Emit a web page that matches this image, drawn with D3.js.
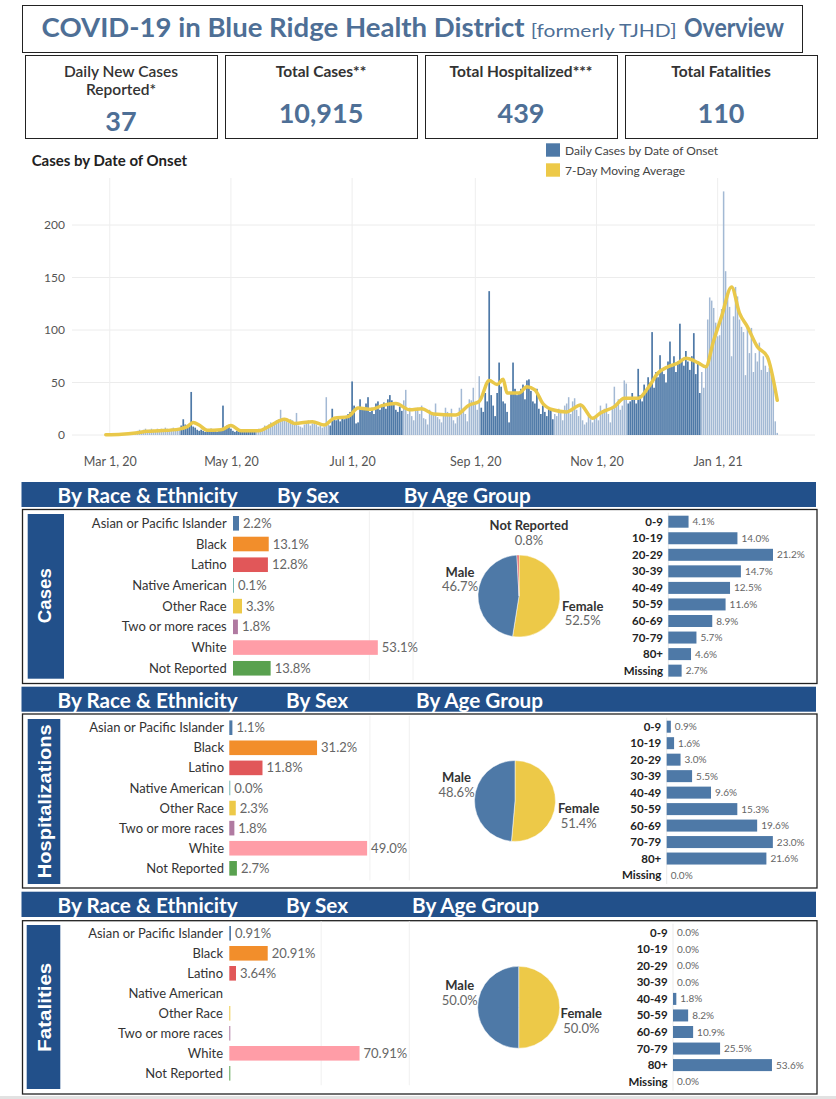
<!DOCTYPE html>
<html>
<head>
<meta charset="utf-8">
<script src="https://cdn.jsdelivr.net/npm/d3@7"></script>
<style>
  body { margin: 0; background: #fff; }
  svg { display: block; font-family: Lato, "Open Sans", sans-serif; }
  .head { font-family: "Liberation Sans Narrow", Lato, sans-serif; font-weight: bold; font-size: 21px; fill: #fff; }
  .side { font-family: "Liberation Sans", Arial, sans-serif; font-weight: bold; font-size: 19px; fill: #fff; }
  .tick text { fill: #555; }
</style>
</head>
<body>
<svg id="chart" width="836" height="1099"></svg>
<script>
// ---------------- data ----------------
const kpiLabels = [["Daily New Cases", "Reported*"], ["Total Cases**"], ["Total Hospitalized***"], ["Total Fatalities"]];
const kpiValues = [37, 10915, 439, 110];

// daily cases by date of onset, one array per month (first value = 1st of month)
const mar20 = [0,0,0,1,0,1,0,1,1,2,1,2,2,3,4,5,4,5,6,4,5,6,5,4,6,5,6,5,7,6,5];
const apr20 = [6,7,5,6,5,9,15,10,8,9,41,8,7,5,4,5,4,3,5,4,6,4,5,3,4,5,28,7,9,8];
const may20 = [6,4,3,4,3,5,4,3,5,4,3,4,5,4,6,5,4,9,8,10,12,9,11,14,15,24,16,14,13,12,15];
const jun20 = [14,10,21,9,8,7,10,12,14,9,11,13,10,8,9,7,8,36,10,9,25,17,14,16,13,18,15,17,20,22];
const jul20 = [51,28,11,12,34,26,24,30,36,22,26,20,30,32,24,29,31,25,34,38,33,30,24,22,27,23,33,43,20,26,18];
const aug20 = [14,24,26,20,28,16,15,10,24,22,19,30,17,15,12,20,26,22,18,25,14,11,17,26,44,24,20,13,34,33,45];
const sep20 = [30,24,56,26,22,40,32,137,38,28,18,40,69,46,32,30,22,12,40,69,44,38,40,44,48,34,52,53,42,32];
const oct20 = [30,44,25,20,28,22,18,26,24,15,20,18,25,22,14,28,30,36,20,32,35,24,18,30,14,10,12,18,15,12,16];
const nov20 = [18,14,28,22,25,30,20,12,26,46,30,34,24,28,52,49,30,32,40,35,30,63,38,32,48,42,55,50,98,45];
const dec20 = [60,55,76,62,58,50,70,89,65,75,60,70,106,72,66,80,70,62,75,97,58,70,40,60,45,65,110,131,128,121,107];
const jan21 = [94,95,120,232,156,135,122,75,113,141,132,110,103,98,57,104,78,102,60,78,70,88,62,75,66,60,64,58,55,13,2];

// dates where the bar shading flips (light -> dark -> light ...)
const shadeBreaks = ["2020-04-06","2020-05-14","2020-06-20","2020-07-27","2020-09-04","2020-10-11","2020-11-17","2020-12-24"];

// 7-day moving average
const movingAvg = [
  ["2020-02-28",0.3],["2020-03-07",0.8],["2020-03-14",2],["2020-03-20",3.5],["2020-03-26",4],["2020-04-05",5.6],
  ["2020-04-09",8],["2020-04-12",12],["2020-04-15",9.5],["2020-04-19",4.5],["2020-04-26",5],["2020-05-01",9],
  ["2020-05-06",4],["2020-05-15",4],["2020-05-20",8],["2020-05-28",15],["2020-06-02",11],["2020-06-11",12.7],
  ["2020-06-17",9.5],["2020-06-22",16],["2020-06-29",17.5],["2020-07-04",25.6],["2020-07-11",24.6],["2020-07-16",28],
  ["2020-07-23",30],["2020-07-30",24],["2020-08-05",25],["2020-08-11",20],["2020-08-22",19],["2020-08-29",28.6],
  ["2020-09-03",32],["2020-09-08",52],["2020-09-12",48],["2020-09-15",53],["2020-09-17",40],["2020-09-23",40],
  ["2020-09-27",46],["2020-10-01",43],["2020-10-05",30],["2020-10-10",24],["2020-10-17",22],["2020-10-24",28.6],
  ["2020-10-30",16],["2020-11-03",21],["2020-11-10",27],["2020-11-15",35],["2020-11-22",35],["2020-11-27",45],
  ["2020-12-02",59],["2020-12-07",65],["2020-12-12",68.6],["2020-12-16",73],["2020-12-22",69],["2020-12-26",65],
  ["2020-12-30",90],["2021-01-03",113],["2021-01-08",141],["2021-01-12",116],["2021-01-16",103],["2021-01-21",84],
  ["2021-01-26",74.5],["2021-01-31",33]
];
const yTicks = [0, 50, 100, 150, 200];
const xTicks = ["2020-03-01","2020-05-01","2020-07-01","2020-09-01","2020-11-01","2021-01-01"];

const raceCategories = ["Asian or Pacific Islander","Black","Latino","Native American","Other Race","Two or more races","White","Not Reported"];
const raceColors = ["#4e79a7","#f28e2b","#e15759","#76b7b2","#edc948","#b07aa1","#ff9da7","#59a14f"];
const raceCases = [2.2, 13.1, 12.8, 0.1, 3.3, 1.8, 53.1, 13.8];
const raceHosp = [1.1, 31.2, 11.8, 0.0, 2.3, 1.8, 49.0, 2.7];
const raceFatal = [0.91, 20.91, 3.64, null, 0, 0, 70.91, 0];

const sexCategories = ["Female", "Male", "Not Reported"];
const sexColors = ["#edc948", "#4e79a7", "#e15759"];
const sexCases = [52.5, 46.7, 0.8];
const sexHosp = [51.4, 48.6, 0];
const sexFatal = [50.0, 50.0, 0];

const ageGroups = ["0-9","10-19","20-29","30-39","40-49","50-59","60-69","70-79","80+","Missing"];
const ageCases = [4.1, 14.0, 21.2, 14.7, 12.5, 11.6, 8.9, 5.7, 4.6, 2.7];
const ageHosp = [0.9, 1.6, 3.0, 5.5, 9.6, 15.3, 19.6, 23.0, 21.6, 0.0];
const ageFatal = [0.0, 0.0, 0.0, 0.0, 1.8, 8.2, 10.9, 25.5, 53.6, 0.0];

// ---------------- drawing ----------------
const svg = d3.select("#chart");
const TITLE_BLUE = "#4e6f96";
const NAVY = "#22508a";
const parse = d3.timeParse("%Y-%m-%d");

// Title box
svg.append("rect").attr("x", 22.5).attr("y", 5.5).attr("width", 780).attr("height", 47)
  .attr("fill", "none").attr("stroke", "#222");
[
  [41.6, 483, "COVID-19 in Blue Ridge Health District", 27, "bold"],
  [530.7, 146, "[formerly TJHD]", 18, "normal"],
  [684, 100, "Overview", 27, "bold"]
].forEach(([tx, tw, txt, fs, fw]) => {
  svg.append("text").attr("x", tx).attr("y", 36.7)
    .attr("textLength", tw).attr("lengthAdjust", "spacingAndGlyphs")
    .style("font-size", fs + "px").style("font-weight", fw).style("fill", TITLE_BLUE)
    .text(txt);
});

// KPI boxes
const kpiX = [25, 225, 425, 625];
kpiX.forEach((bx, i) => {
  svg.append("rect").attr("x", bx + 0.5).attr("y", 55.5).attr("width", 192).attr("height", 83)
    .attr("fill", "none").attr("stroke", "#222");
  const cx = bx + 96;
  kpiLabels[i].forEach((line, j) => {
    svg.append("text").attr("x", cx).attr("y", 77 + j * 18).attr("text-anchor", "middle")
      .style("font-size", "15.5px").style("font-weight", i === 0 ? "600" : "bold").style("fill", "#333")
      .text(line);
  });
  svg.append("text").attr("x", cx).attr("y", i === 0 ? 130.7 : 122.7).attr("text-anchor", "middle")
    .style("font-size", "27px").style("font-weight", "bold").style("fill", TITLE_BLUE)
    .text(d3.format(",")(kpiValues[i]));
});

// ---- Cases by date of onset ----
svg.append("text").attr("x", 31.7).attr("y", 165.5)
  .style("font-size", "15px").style("font-weight", "bold").style("fill", "#222")
  .text("Cases by Date of Onset");

const legend = [["Daily Cases by Date of Onset", "#4e79a7"], ["7-Day Moving Average", "#edc948"]];
legend.forEach(([lab, col], i) => {
  svg.append("rect").attr("x", 546).attr("y", 143.3 + i * 20).attr("width", 14).attr("height", 13.4).attr("fill", col);
  svg.append("text").attr("x", 565).attr("y", 155 + i * 20)
    .style("font-size", "12px").style("fill", "#444").text(lab);
});

const daily = [mar20, apr20, may20, jun20, jul20, aug20, sep20, oct20, nov20, dec20, jan21].flat()
  .map((v, i) => ({ date: d3.timeDay.offset(new Date(2020, 2, 1), i), value: v }));
const breaks = shadeBreaks.map(parse);
const isDark = (d) => breaks.filter((b) => d >= b).length % 2 === 1;

const x = d3.scaleTime().domain([new Date(2020, 1, 11), new Date(2021, 1, 19)]).range([72, 815]);
const y = d3.scaleLinear().domain([0, 240]).range([435, 183]);

const grid = svg.append("g").attr("class", "grid");
grid.selectAll("line.h").data(yTicks).join("line").attr("class", "h")
  .attr("x1", 72).attr("x2", 815).attr("y1", (d) => y(d)).attr("y2", (d) => y(d))
  .attr("stroke", "#ececec").attr("stroke-width", 1);
grid.selectAll("line.v").data(xTicks.map(parse)).join("line").attr("class", "v")
  .attr("x1", (d) => x(d)).attr("x2", (d) => x(d)).attr("y1", 178).attr("y2", 435)
  .attr("stroke", "#eeeeee").attr("stroke-width", 1);

svg.append("g").selectAll("rect").data(daily).join("rect")
  .attr("x", (d) => x(d.date) - (isDark(d.date) ? 0.85 : 0.75))
  .attr("y", (d) => y(d.value))
  .attr("width", (d) => (isDark(d.date) ? 1.7 : 1.5))
  .attr("height", (d) => y(0) - y(d.value))
  .attr("fill", (d) => (isDark(d.date) ? "#4e79a7" : "#a3b9d4"));

const maLine = d3.line().x((d) => x(parse(d[0]))).y((d) => y(d[1])).curve(d3.curveMonotoneX);
svg.append("path").datum(movingAvg).attr("d", maLine)
  .attr("fill", "none").attr("stroke", "#e9c84a").attr("stroke-width", 3.5)
  .attr("stroke-linejoin", "round").attr("stroke-linecap", "round");

const yAxis = svg.append("g").attr("transform", "translate(72,0)")
  .call(d3.axisLeft(y).tickValues(yTicks).tickSize(0).tickPadding(7));
yAxis.select(".domain").remove();
yAxis.selectAll("text").style("font-size", "12px").style("font-family", "Lato, sans-serif");

const xAxis = svg.append("g").attr("transform", "translate(0,435)")
  .call(d3.axisBottom(x).tickValues(xTicks.map(parse)).tickFormat(d3.timeFormat("%b %-d, %y")).tickSize(0).tickPadding(22));
xAxis.select(".domain").remove();
xAxis.selectAll("text").style("font-size", "12.5px").style("font-family", "Lato, sans-serif");

// ---- breakdown sections ----
function drawSection(s) {
  const g = svg.append("g");
  g.append("rect").attr("x", 21.5).attr("y", s.headY).attr("width", 794.5).attr("height", s.headH).attr("fill", NAVY);
  s.heads.forEach(([hx, hw, txt]) => {
    g.append("text").attr("class", "head").attr("x", hx).attr("y", s.headBase)
      .attr("textLength", hw).attr("lengthAdjust", "spacingAndGlyphs").text(txt);
  });
  g.append("rect").attr("x", 22.5).attr("y", s.boxY).attr("width", 794.5).attr("height", s.boxH)
    .attr("fill", "none").attr("stroke", "#222").attr("stroke-width", 1.3);
  g.append("rect").attr("x", s.side[0]).attr("y", s.side[1]).attr("width", s.side[2]).attr("height", s.side[3]).attr("fill", NAVY);
  g.append("text").attr("class", "side")
    .attr("transform", `translate(50.5,${s.sideMid}) rotate(-90)`)
    .attr("text-anchor", "middle")
    .attr("textLength", s.sideLen).attr("lengthAdjust", "spacingAndGlyphs")
    .text(s.sideLabel);

  // race & ethnicity bars
  const rx = d3.scaleLinear().domain([0, s.raceMax]).range([s.raceX0, s.raceX0 + 180]);
  const ry = d3.scalePoint().domain(raceCategories).range([s.raceRow0, s.raceRow0 + s.raceStep * 7]);
  const rTop = s.raceRow0 - 12, rBot = s.raceRow0 + s.raceStep * 7 + 12;
  [50, s.raceMax].forEach((t) => {
    g.append("line").attr("x1", rx(t)).attr("x2", rx(t)).attr("y1", rTop).attr("y2", rBot)
      .attr("stroke", "#f0f0f0");
  });
  const race = raceCategories.map((c, i) => ({ c, v: s.race[i], col: raceColors[i] }));
  g.selectAll("text.rl").data(race).join("text").attr("class", "rl")
    .attr("x", s.raceLabelX).attr("y", (d) => ry(d.c)).attr("dy", "0.35em").attr("text-anchor", "end")
    .style("font-size", "13px").style("fill", "#333").text((d) => d.c);
  g.selectAll("rect.rb").data(race.filter((d) => d.v !== null && d.v !== undefined)).join("rect").attr("class", "rb")
    .attr("x", s.raceX0).attr("y", (d) => ry(d.c) - 7.3)
    .attr("width", (d) => Math.max(1, rx(d.v) - s.raceX0)).attr("height", 14.6)
    .attr("fill", (d) => d.col);
  g.selectAll("text.rv").data(race.filter((d) => d.v !== null && (d.v > 0 || s.raceDec === 1))).join("text").attr("class", "rv")
    .attr("x", (d) => Math.max(rx(d.v), s.raceX0 + 1) + 4).attr("y", (d) => ry(d.c)).attr("dy", "0.35em")
    .style("font-size", "13px").style("fill", "#666").text((d) => d.v.toFixed(s.raceDec) + "%");

  // sex pie
  const sex = sexCategories.map((c, i) => ({ c, v: s.sex[i], col: sexColors[i] }));
  const arcs = d3.pie().sort(null).value((d) => d.v)(sex);
  g.append("g").attr("transform", `translate(${s.pie[0]},${s.pie[1]})`)
    .selectAll("path").data(arcs.filter((a) => a.data.v > 0)).join("path")
    .attr("d", d3.arc().innerRadius(0).outerRadius(s.pie[2]))
    .attr("fill", (a) => a.data.col).attr("stroke", "#fff").attr("stroke-width", 0.5);
  s.pieLabels.forEach(([lx, ly, name, val]) => {
    g.append("text").attr("x", lx).attr("y", ly).attr("text-anchor", "middle")
      .style("font-size", "13px").style("font-weight", "bold").style("fill", "#333").text(name);
    g.append("text").attr("x", lx).attr("y", ly + 14.5).attr("text-anchor", "middle")
      .style("font-size", "13px").style("fill", "#666").text(val.toFixed(1) + "%");
  });

  // age group bars
  const ax = d3.scaleLinear().domain([0, s.ageMax]).range([s.ageX0, s.ageX0 + 120]);
  const ay = d3.scalePoint().domain(ageGroups).range([s.ageRow0, s.ageRow0 + s.ageStep * 9]);
  g.append("line").attr("x1", s.ageX0).attr("x2", s.ageX0)
    .attr("y1", s.ageRow0 - 9).attr("y2", s.ageRow0 + s.ageStep * 9 + 9).attr("stroke", "#ebebeb");
  const age = ageGroups.map((c, i) => ({ c, v: s.age[i] }));
  g.selectAll("text.al").data(age).join("text").attr("class", "al")
    .attr("x", s.ageLabelX).attr("y", (d) => ay(d.c)).attr("dy", "0.35em").attr("text-anchor", "end")
    .style("font-size", "11.5px").style("font-weight", "bold").style("fill", "#222").text((d) => d.c);
  g.selectAll("rect.ab").data(age.filter((d) => d.v > 0)).join("rect").attr("class", "ab")
    .attr("x", s.ageX0).attr("y", (d) => ay(d.c) - 6)
    .attr("width", (d) => Math.max(1, ax(d.v) - s.ageX0)).attr("height", 12)
    .attr("fill", "#4e79a7");
  g.selectAll("text.av").data(age).join("text").attr("class", "av")
    .attr("x", (d) => ax(d.v) + 4).attr("y", (d) => ay(d.c)).attr("dy", "0.35em")
    .style("font-size", "10px").style("fill", "#666").text((d) => d.v.toFixed(1) + "%");
}

drawSection({
  headY: 482, headH: 25, headBase: 503.3,
  heads: [[57.6, 180, "By Race & Ethnicity"], [277, 62, "By Sex"], [403.7, 127, "By Age Group"]],
  boxY: 509.5, boxH: 174, side: [27.7, 514, 36.3, 164.7], sideMid: 595.7, sideLen: 55, sideLabel: "Cases",
  race: raceCases, raceMax: 66, raceX0: 233, raceLabelX: 226.7, raceRow0: 523.3, raceStep: 20.71, raceDec: 1,
  sex: sexCases, pie: [519, 596, 41],
  pieLabels: [[529, 530, "Not Reported", 0.8], [460, 576.7, "Male", 46.7], [582.7, 610.7, "Female", 52.5]],
  age: ageCases, ageMax: 24.3, ageX0: 668.3, ageLabelX: 663, ageRow0: 521.7, ageStep: 16.55
});

drawSection({
  headY: 686.7, headH: 25, headBase: 707.7,
  heads: [[57.6, 180, "By Race & Ethnicity"], [286, 62, "By Sex"], [416, 127, "By Age Group"]],
  boxY: 714, boxH: 174, side: [27.7, 719, 32.6, 165], sideMid: 801.3, sideLen: 154, sideLabel: "Hospitalizations",
  race: raceHosp, raceMax: 64, raceX0: 229.3, raceLabelX: 224, raceRow0: 727.7, raceStep: 20.09, raceDec: 1,
  sex: sexHosp, pie: [515, 801, 40.5],
  pieLabels: [[456.5, 782.3, "Male", 48.6], [578.7, 813.3, "Female", 51.4]],
  age: ageHosp, ageMax: 26, ageX0: 666.7, ageLabelX: 661.3, ageRow0: 726.7, ageStep: 16.48
});

drawSection({
  headY: 891.7, headH: 25.3, headBase: 913.3,
  heads: [[57.6, 180, "By Race & Ethnicity"], [286, 62, "By Sex"], [412, 127, "By Age Group"]],
  boxY: 920.7, boxH: 173.3, side: [26.7, 925, 33.6, 164], sideMid: 1007.2, sideLen: 89, sideLabel: "Fatalities",
  race: raceFatal, raceMax: 98, raceX0: 229.3, raceLabelX: 223, raceRow0: 933.3, raceStep: 20, raceDec: 2,
  sex: sexFatal, pie: [518.7, 1007.3, 41],
  pieLabels: [[459.7, 990, "Male", 50.0], [581.3, 1018.3, "Female", 50.0]],
  age: ageFatal, ageMax: 65, ageX0: 673, ageLabelX: 667.7, ageRow0: 932.7, ageStep: 16.55
});

// grey strip at the very bottom
svg.append("rect").attr("x", 0).attr("y", 1096).attr("width", 836).attr("height", 3).attr("fill", "#e2e2e2");
</script>
</body>
</html>
